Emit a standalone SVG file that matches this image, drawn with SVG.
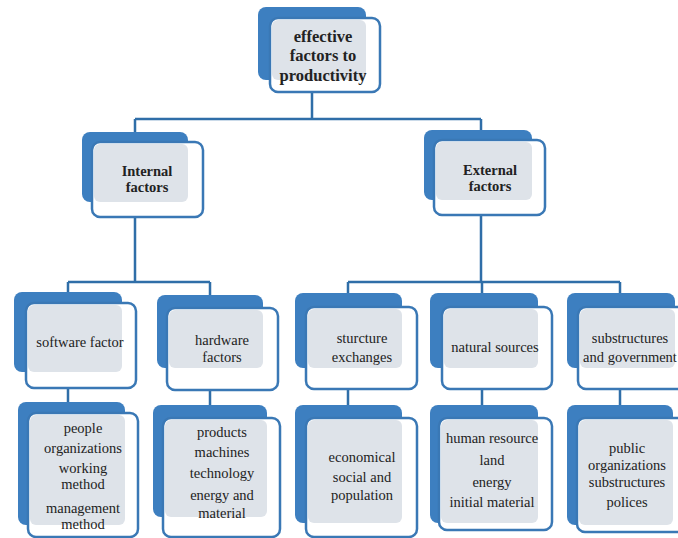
<svg xmlns="http://www.w3.org/2000/svg" width="678" height="538" viewBox="0 0 678 538">
<style>
.back{fill:#3d7fc0}
.front{fill:#ffffff;stroke:#3a78b5;stroke-width:2.5}
.ov{fill:#dee3e9}
.conn{fill:none;stroke:#2f6ea8;stroke-width:2.5}
text{fill:#222;text-anchor:middle}
.t1{font-size:16.5px;font-weight:bold}
.t2{font-size:14.5px;font-weight:bold}
.t3{font-size:14.5px}
</style>
<rect width="678" height="538" fill="#ffffff"/>
<g id="connectors">
<path class="conn" d="M312 92V119M135 119H481M135 119V132M481 119V130"/>
<path class="conn" d="M135 217V282M68 282H210M68 282V292M210 282V295"/>
<path class="conn" d="M481 215V282M348 282H620M348 282V293M482 282V293M620 282V293"/>
<path class="conn" d="M68 388V402M210 390V405M348 389V405M482 389V405M620 389V405"/>
</g>
<g font-family="'Liberation Serif', 'DejaVu Serif', serif">
<g id="n-top">
<rect class="back" x="258" y="7" width="108" height="73" rx="8"/>
<rect class="front" x="270" y="18" width="110" height="74" rx="8"/>
<rect class="ov" x="272" y="20" width="94" height="60" rx="6"/>
<text class="t1" x="323" y="42">effective</text>
<text class="t1" x="323" y="61">factors to</text>
<text class="t1" x="323" y="81">productivity</text>
</g>
<g id="n-internal">
<rect class="back" x="82" y="132" width="106" height="70" rx="8"/>
<rect class="front" x="92" y="142" width="111" height="75" rx="8"/>
<rect class="ov" x="94" y="144" width="94" height="58" rx="6"/>
<text class="t2" x="147" y="176">Internal</text>
<text class="t2" x="147" y="192">factors</text>
</g>
<g id="n-external">
<rect class="back" x="424" y="130" width="108" height="70" rx="8"/>
<rect class="front" x="434" y="140" width="111" height="75" rx="8"/>
<rect class="ov" x="436" y="142" width="96" height="58" rx="6"/>
<text class="t2" x="490" y="175">External</text>
<text class="t2" x="490" y="191">factors</text>
</g>
<g id="n-software">
<rect class="back" x="14" y="292" width="108" height="80" rx="8"/>
<rect class="front" x="26" y="303" width="110" height="85" rx="8"/>
<rect class="ov" x="28" y="305" width="94" height="67" rx="6"/>
<text class="t3" x="80" y="347">software factor</text>
</g>
<g id="n-hardware">
<rect class="back" x="157" y="295" width="106" height="73" rx="8"/>
<rect class="front" x="167" y="308" width="111" height="82" rx="8"/>
<rect class="ov" x="169" y="310" width="94" height="58" rx="6"/>
<text class="t3" x="222" y="345">hardware</text>
<text class="t3" x="222" y="362">factors</text>
</g>
<g id="n-structure">
<rect class="back" x="295" y="293" width="107" height="75" rx="8"/>
<rect class="front" x="306" y="307" width="111" height="82" rx="8"/>
<rect class="ov" x="308" y="309" width="94" height="59" rx="6"/>
<text class="t3" x="362" y="343">sturcture</text>
<text class="t3" x="362" y="362">exchanges</text>
</g>
<g id="n-natural">
<rect class="back" x="430" y="293" width="108" height="75" rx="8"/>
<rect class="front" x="442" y="307" width="110" height="82" rx="8"/>
<rect class="ov" x="444" y="309" width="94" height="59" rx="6"/>
<text class="t3" x="495" y="352">natural sources</text>
</g>
<g id="n-substructures">
<rect class="back" x="567" y="293" width="108" height="75" rx="8"/>
<rect class="front" x="578" y="307" width="110" height="82" rx="8"/>
<rect class="ov" x="580" y="309" width="95" height="59" rx="6"/>
<text class="t3" x="630" y="343">substructures</text>
<text class="t3" x="630" y="362">and government</text>
</g>
<g id="n-people">
<rect class="back" x="18" y="402" width="107" height="123" rx="8"/>
<rect class="front" x="28" y="413" width="110" height="124" rx="8"/>
<rect class="ov" x="30" y="415" width="95" height="110" rx="6"/>
<text class="t3" x="83" y="433">people</text>
<text class="t3" x="83" y="453">organizations</text>
<text class="t3" x="83" y="473">working</text>
<text class="t3" x="83" y="489">method</text>
<text class="t3" x="83" y="513">management</text>
<text class="t3" x="83" y="529">method</text>
</g>
<g id="n-products">
<rect class="back" x="153" y="405" width="114" height="112" rx="8"/>
<rect class="front" x="163" y="418" width="117" height="119" rx="8"/>
<rect class="ov" x="165" y="420" width="102" height="97" rx="6"/>
<text class="t3" x="222" y="437">products</text>
<text class="t3" x="222" y="457">machines</text>
<text class="t3" x="222" y="478">technology</text>
<text class="t3" x="222" y="500">energy and</text>
<text class="t3" x="222" y="518">material</text>
</g>
<g id="n-economical">
<rect class="back" x="295" y="405" width="107" height="118" rx="8"/>
<rect class="front" x="306" y="418" width="111" height="119" rx="8"/>
<rect class="ov" x="308" y="420" width="94" height="103" rx="6"/>
<text class="t3" x="362" y="462">economical</text>
<text class="t3" x="362" y="482">social and</text>
<text class="t3" x="362" y="500">population</text>
</g>
<g id="n-human">
<rect class="back" x="430" y="405" width="108" height="118" rx="8"/>
<rect class="front" x="439" y="418" width="113" height="112" rx="8"/>
<rect class="ov" x="441" y="420" width="97" height="103" rx="6"/>
<text class="t3" x="492" y="443">human resource</text>
<text class="t3" x="492" y="465">land</text>
<text class="t3" x="492" y="487">energy</text>
<text class="t3" x="492" y="507">initial material</text>
</g>
<g id="n-public">
<rect class="back" x="567" y="405" width="106" height="120" rx="8"/>
<rect class="front" x="577" y="418" width="110" height="114" rx="8"/>
<rect class="ov" x="579" y="420" width="94" height="105" rx="6"/>
<text class="t3" x="627" y="453">public</text>
<text class="t3" x="627" y="470">organizations</text>
<text class="t3" x="627" y="487">substructures</text>
<text class="t3" x="627" y="507">polices</text>
</g>
</g>
</svg>
